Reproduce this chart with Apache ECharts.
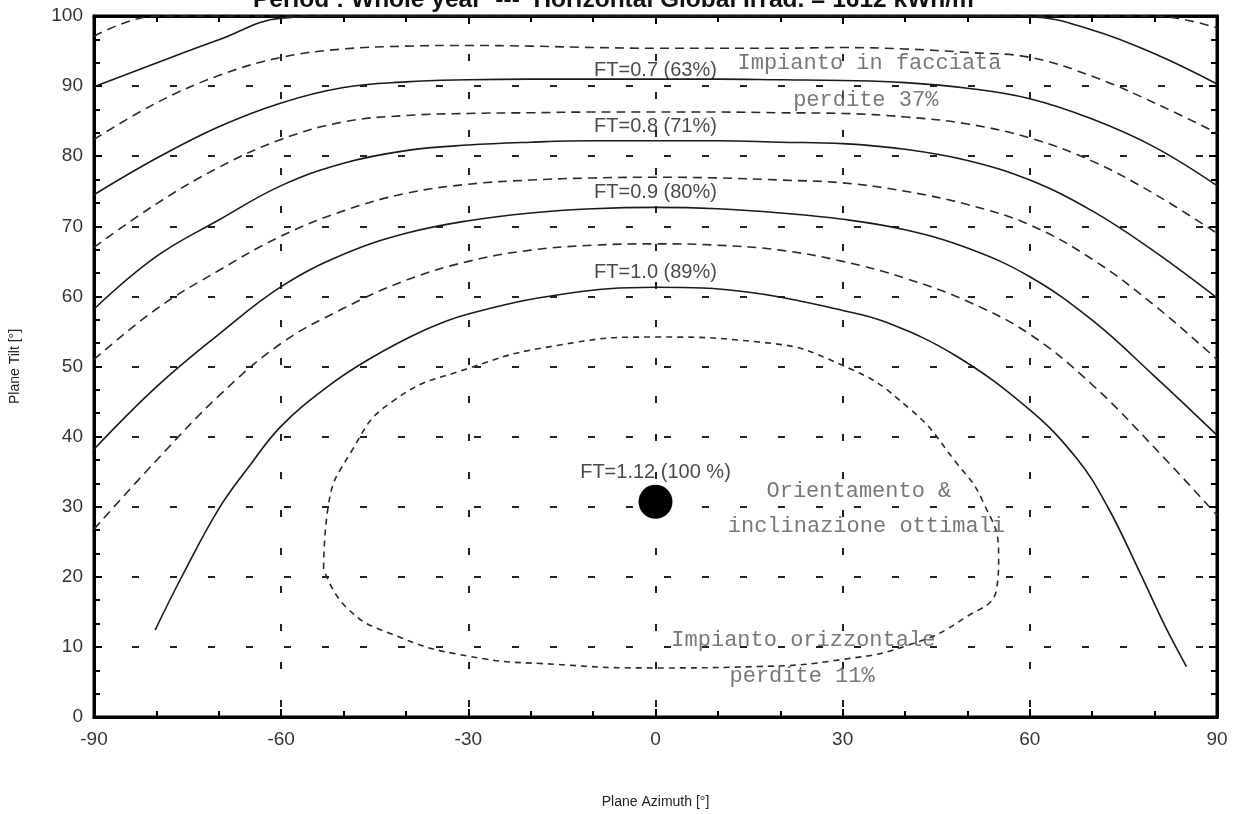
<!DOCTYPE html>
<html><head><meta charset="utf-8">
<script src="https://cdn.jsdelivr.net/npm/echarts@6/dist/echarts.min.js"></script>
<style>html,body{margin:0;padding:0;background:#fff}#c{width:1235px;height:814px}</style>
</head><body><div id="c"></div>
<script>
// Plane azimuth sample points shared by most iso-FT curves
const azimuth = [-90,-80,-70,-60,-50,-40,-30,-20,-10,0,10,20,30,40,50,60,70,80,90];
// Tilt of each iso-transposition-factor curve (clamped at the 100° frame)
const ft055 = [97.1,100,100,100,100,100,100,100,100,100,100,100,100,100,100,100,100,100,98.3];
const ft060 = [89.9,93.3,96.6,99.7,100,100,100,100,100,100,100,100,100,100,100,99.9,98.0,94.6,90.3];
const ft065 = [82.4,87.6,91.5,94.1,95.3,95.7,95.8,95.7,95.5,95.4,95.4,95.4,95.5,95.3,94.8,94.1,91.4,87.6,83.3];
const ft070 = [74.5,79.7,84.2,87.6,89.8,90.6,90.9,91.0,91.0,91.0,91.0,90.9,90.8,90.5,89.7,88.2,85.3,81.3,75.8];
const ft075 = [67.0,73.2,78.4,82.4,84.9,85.8,86.1,86.2,86.3,86.3,86.3,86.2,86.1,85.6,84.6,82.6,79.3,74.6,69.0];
const ft080 = [58.2,65.7,70.9,75.8,79.0,80.8,81.6,82.0,82.2,82.2,82.2,82.0,81.8,81.0,79.4,76.6,72.2,66.4,59.8];
const ft085 = [51.0,58.2,63.7,68.6,72.2,74.7,76.0,76.6,76.9,77.0,76.9,76.6,76.2,75.0,73.1,70.2,65.3,58.7,51.0];
const ft090 = [38.2,47.1,54.6,61.4,66.0,69.0,70.8,71.9,72.5,72.7,72.5,71.9,71.0,69.5,66.9,62.8,56.6,48.6,40.2];
const ft095 = [26.8,36.6,45.8,53.3,58.3,62.3,65.0,66.6,67.3,67.5,67.3,66.6,65.0,62.6,59.3,54.6,47.4,38.4,28.8];
// FT = 1.0 curve (own azimuth range)
const ft100Az   = [-80.2,-76,-70,-65,-60,-52.6,-46,-37,-30,-15,0,15,30,37,48,60,67.5,72.4,77.8,81.6,85.1];
const ft100Tilt = [12.4,19.9,29.7,35.9,41.5,47.1,51.0,55.2,57.5,60.3,61.3,60.6,58.0,56.3,51.6,43.8,36.9,30.1,20.3,13.1,7.2];
// FT = 1.05 closed loop around the optimum
const ft105Az   = [-53.2,-52.5,-48.8,-42.2,-30.1,-15.8,0,16.5,29.9,40.7,48.1,52.5,55.0,54.7,49.5,40.7,29.9,16.5,0,-15.8,-30.1,-42.2,-49.5,-53.2];
const ft105Tilt = [21.2,29.8,37.8,45.0,49.7,53.0,54.2,53.5,50.2,44.0,36.4,30.7,23.1,18.4,14.1,10.3,8.2,7.2,7.0,7.5,8.7,11.8,15.6,21.2];
// Optimum
const optimumAz = 0, optimumTilt = 30.7;
// Curve labels
const ftLabelText = ['FT=0.7 (63%)','FT=0.8 (71%)','FT=0.9 (80%)','FT=1.0 (89%)','FT=1.12 (100 %)'];
const ftLabelAz   = [0,0,0,0,0];
const ftLabelTilt = [92.2,84.3,74.8,63.4,34.9];
// Hand-written notes
const noteText = ['Impianto in facciata','perdite 37%','Orientamento &','inclinazione ottimali','Impianto orizzontale','perdite 11%'];
const noteAz   = [34.3,33.7,32.6,33.8,23.7,23.5];
const noteTilt = [93.2,88.0,32.2,27.2,11.0,5.8];
const xTicks = [-90,-60,-30,0,30,60,90];
const yTicks = [0,10,20,30,40,50,60,70,80,90,100];

const chart = echarts.init(document.getElementById('c'), null, {renderer:'canvas'});
const pairs = (xs, ys) => xs.map((x,i)=>[x, ys[i]]);
const solid = {color:'#1a1a1a', width:1.6, type:'solid'};
const dashed = {color:'#2a2a2a', width:1.6, type:[9,6]};
function curve(data, style, sm){
  return {type:'line', data, symbol:'none', smooth:sm, lineStyle:style, silent:true, clip:true, z:3};
}
const series = [
  curve(pairs(azimuth, ft055), dashed, 0.4),
  curve(pairs(azimuth, ft060), solid, 0.4),
  curve(pairs(azimuth, ft065), dashed, 0.4),
  curve(pairs(azimuth, ft070), solid, 0.4),
  curve(pairs(azimuth, ft075), dashed, 0.4),
  curve(pairs(azimuth, ft080), solid, 0.4),
  curve(pairs(azimuth, ft085), dashed, 0.4),
  curve(pairs(azimuth, ft090), solid, 0.4),
  curve(pairs(azimuth, ft095), dashed, 0.4),
  curve(pairs(ft100Az, ft100Tilt), solid, 0.4),
  curve(pairs(ft105Az, ft105Tilt), {color:'#2a2a2a', width:1.6, type:[6,5]}, 0.5),
  {type:'scatter', data:[[optimumAz, optimumTilt]], symbolSize:34, itemStyle:{color:'#000', opacity:1}, silent:true, z:5},
  {type:'scatter', silent:true, z:6, symbolSize:1, itemStyle:{color:'rgba(0,0,0,0)'},
    data: ftLabelText.map((t,i)=>({value:[ftLabelAz[i], ftLabelTilt[i]], label:{formatter:t}})),
    label:{show:true, position:'inside', color:'#1a1a1a', fontSize:20, fontFamily:'Liberation Sans, Arial, sans-serif'}},
  {type:'scatter', silent:true, z:6, symbolSize:1, itemStyle:{color:'rgba(0,0,0,0)'},
    data: noteText.map((t,i)=>({value:[noteAz[i], noteTilt[i]], label:{formatter:t}})),
    label:{show:true, position:'inside', color:'#555', fontSize:22, fontFamily:'Liberation Mono, DejaVu Sans Mono, monospace'}}
];
const axisFont = {color:'#333', fontSize:19, fontFamily:'Liberation Sans, Arial, sans-serif'};
const frameAxis = {
  axisLine:{show:true, onZero:false, lineStyle:{color:'#000', width:3}},
  axisTick:{show:true, inside:true, length:8, lineStyle:{color:'#000', width:2}},
  minorTick:{show:true, splitNumber:3, length:6, lineStyle:{color:'#000', width:2}}
};
chart.setOption({
  animation:false,
  backgroundColor:'#fff',
  title:{text:'Period : Whole year  ---  Horizontal Global Irrad. = 1612 kWh/m²', left:'center', top:-17,
    textStyle:{fontSize:24.5, fontWeight:'bold', color:'#111', fontFamily:'Liberation Sans, Arial, sans-serif'}},
  grid:{left:93, right:18, top:16, bottom:92, show:true, borderColor:'#000', borderWidth:3, backgroundColor:'#fff'},
  xAxis:[Object.assign({
    type:'value', min:xTicks[0], max:xTicks[xTicks.length-1], interval:30,
    name:'Plane Azimuth [°]', nameLocation:'middle', nameGap:78,
    nameTextStyle:{fontSize:14, color:'#222', fontFamily:'Liberation Sans, Arial, sans-serif'},
    axisLabel:Object.assign({margin:13}, axisFont),
    splitLine:{show:true, lineStyle:{color:'#222', width:2, type:[7,31]}}
  }, frameAxis), Object.assign({
    type:'value', position:'top', min:xTicks[0], max:xTicks[xTicks.length-1], interval:30,
    axisLabel:{show:false}, splitLine:{show:false}
  }, frameAxis)],
  yAxis:[Object.assign({
    type:'value', min:yTicks[0], max:yTicks[yTicks.length-1], interval:10,
    name:'Plane Tilt [°]', nameLocation:'middle', nameGap:72, nameRotate:90,
    nameTextStyle:{fontSize:14, color:'#222', fontFamily:'Liberation Sans, Arial, sans-serif'},
    axisLabel:Object.assign({margin:11}, axisFont),
    splitLine:{show:true, lineStyle:{color:'#222', width:2, type:[7,31]}}
  }, frameAxis), Object.assign({
    type:'value', position:'right', min:yTicks[0], max:yTicks[yTicks.length-1], interval:10,
    axisLabel:{show:false}, splitLine:{show:false}
  }, frameAxis)],
  series
});
</script></body></html>
